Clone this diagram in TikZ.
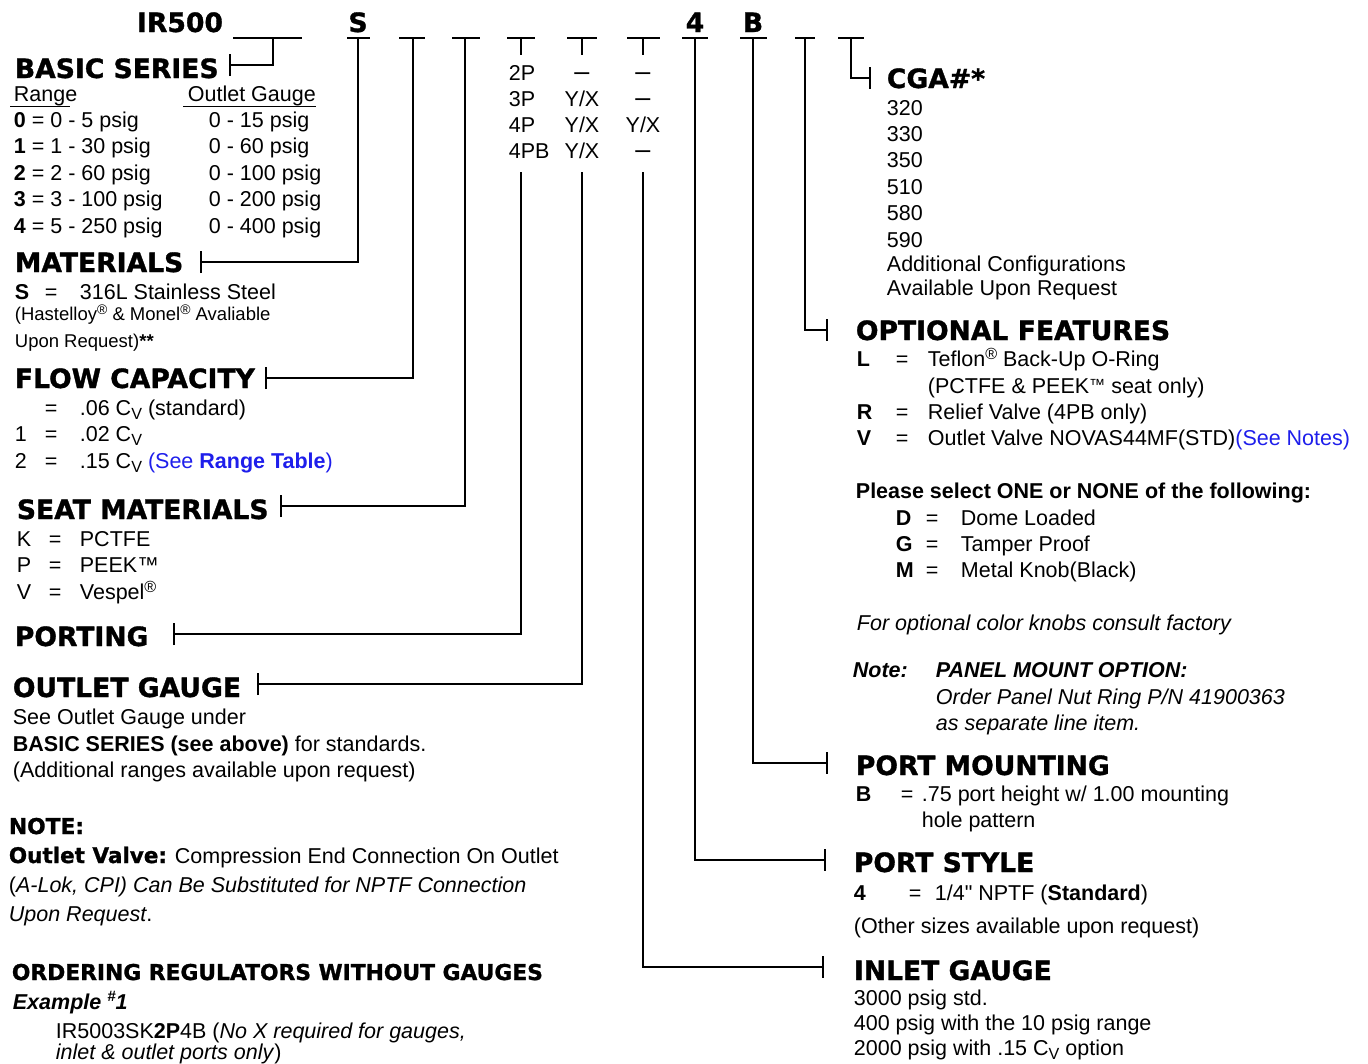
\documentclass[tikz,border=0pt]{standalone}
\usepackage{fontspec}
\setmainfont{Liberation Sans}
\newfontfamily\headfont{DejaVu Sans}[BoldFeatures={FakeBold=1.2}]
\newfontfamily\straightfont{Liberation Sans}[Ligatures=TeXOff]
\usetikzlibrary{arrows.meta}
\definecolor{seeblue}{RGB}{30,30,235}
\newcommand\regm{\raisebox{.32em}{\scalebox{.75}{®}}}
\newcommand\tmm{\raisebox{.12em}{\scalebox{.75}{™}}}
\newcommand\cvsub{C\raisebox{-.2em}{\scalebox{.75}{V}}}
\newcommand\nodash{{\fontsize{27}{30}\selectfont –}}

\begin{document}
\begin{tikzpicture}[x=1pt,y=-1pt,line width=1.8pt,
    head/.style={anchor=base west,inner sep=0pt,font=\headfont\bfseries\fontsize{26.6}{30}\selectfont},
    smallhead/.style={head,font=\headfont\bfseries\fontsize{21.8}{26}\selectfont},
    code/.style={head,anchor=base},
    txt/.style={anchor=base west,inner sep=0pt,font=\fontsize{21.5}{26}\selectfont},
    small/.style={txt,font=\fontsize{18.5}{22}\selectfont},
    mid/.style={txt,anchor=base},
    lead/.style={-{Bar[width=22pt,line width=1.8pt]}}]
    \useasboundingbox (0,0) rectangle (1368,1063);

    % part number
    \node[code] (ir) at (180,32) {IR500};
    \node[code] (cs) at (358,32) {S};
    \node[code] (c4) at (695,32) {4};
    \node[code] (cb) at (753,32) {B};
    \foreach \a/\b in {233/302,347/370,399/425,452/480,507/535,567/597,627/660,682/708,740/767,795/815,838/864}
        \draw (\a,38) -- (\b,38);

    \coordinate (s1) at (273,38);
    \coordinate (s2) at (358,38);
    \coordinate (s3) at (413,38);
    \coordinate (s4) at (465,38);
    \coordinate (s5) at (521,38);
    \coordinate (s6) at (582,38);
    \coordinate (s7) at (643,38);
    \coordinate (s8) at (695,38);
    \coordinate (s9) at (753,38);
    \coordinate (s10) at (805,38);
    \coordinate (s11) at (851,38);

    % porting / gauge columns
    \foreach \p [count=\i] in {2P,3P,4P,4PB}
        \node[txt] (pp\i) at (508,{80+26.3*(\i-1)}) {\p};
    \foreach \o [count=\i] in {\nodash,Y/X,Y/X,Y/X}
        \node[mid] (po\i) at (582,{80+26.3*(\i-1)}) {\o};
    \foreach \o [count=\i] in {\nodash,\nodash,Y/X,\nodash}
        \node[mid] (pi\i) at (643,{80+26.3*(\i-1)}) {\o};
    \coordinate (e5) at (521,172);
    \coordinate (e6) at (582,172);
    \coordinate (e7) at (643,172);
    \draw (s5) -- (521,55);
    \draw (s6) -- (582,55);
    \draw (s7) -- (643,55);

    % left column
    \node[head] (bs) at (14,78) {BASIC SERIES};
    \node[txt] (rng) at (13,101) {Range};
    \node[txt] (ogh) at (187,101) {Outlet Gauge};
    \draw[line width=1pt] (10,106) -- (70,106);
    \draw[line width=1pt] (183,106) -- (316,106);
    \foreach \k/\r/\g [count=\i] in {0/0 - 5/15,1/1 - 30/60,2/2 - 60/100,3/3 - 100/200,4/5 - 250/400}{
        \node[txt] (r\i) at (13,{127+26.5*(\i-1)}) {\textbf{\k} = \r\ psig};
        \node[txt] (g\i) at (208,{127+26.5*(\i-1)}) {0 - \g\ psig};
    }

    \node[head] (mat) at (14,272) {MATERIALS};
    \node[txt] (matk) at (14,299) {\textbf{S}};
    \node[txt] (mate) at (44,299) {=};
    \node[txt] (matv) at (79,299) {316L Stainless Steel};
    \node[small] (mat2) at (14,320) {(Hastelloy\regm{} \& Monel\regm{} Avaliable};
    \node[small] (mat3) at (14,347) {Upon Request)\textbf{**}};

    \node[head] (fc) at (14,388) {FLOW CAPACITY};
    \foreach \k/\v [count=\i] in {{}/{.06 \cvsub{} (standard)},1/{.02 \cvsub},2/{.15 \cvsub{} \textcolor{seeblue}{(See \textbf{Range Table})}}}{
        \node[txt] (fck\i) at (14,{415+26.5*(\i-1)}) {\k};
        \node[txt] (fce\i) at (44,{415+26.5*(\i-1)}) {=};
        \node[txt] (fcv\i) at (79,{415+26.5*(\i-1)}) {\v};
    }

    \node[head] (seat) at (16,519) {SEAT MATERIALS};
    \foreach \k/\v [count=\i] in {K/PCTFE,P/PEEK™,V/Vespel\regm}{
        \node[txt] (stk\i) at (16,{546+26.5*(\i-1)}) {\k};
        \node[txt] (ste\i) at (48,{546+26.5*(\i-1)}) {=};
        \node[txt] (stv\i) at (79,{546+26.5*(\i-1)}) {\v};
    }

    \node[head] (port) at (14,646) {PORTING};
    \node[head] (og) at (12,697) {OUTLET GAUGE};
    \node[txt] (og1) at (12,724) {See Outlet Gauge under};
    \node[txt] (og2) at (12,751) {\textbf{BASIC SERIES (see above)} for standards.};
    \node[txt] (og3) at (12,777) {(Additional ranges available upon request)};

    \node[smallhead] (note) at (8,834) {NOTE:};
    \node[txt] (nt1) at (8,863) {{\headfont\bfseries\fontsize{21.5}{26}\selectfont Outlet Valve:} Compression End Connection On Outlet};
    \node[txt] (nt2) at (8,892) {(\textit{A-Lok, CPI) Can Be Substituted for NPTF Connection}};
    \node[txt] (nt3) at (8,921) {\textit{Upon Request}.};

    \node[smallhead] (ord) at (11,980) {ORDERING REGULATORS WITHOUT GAUGES};
    \node[txt] (ex) at (12,1009) {\textbf{\textit{Example \raisebox{.35em}{\scalebox{.7}{\#}}1}}};
    \node[txt] (ex1) at (55,1038) {IR5003SK\textbf{2P}4B (\textit{No X required for gauges,}};
    \node[txt] (ex2) at (55,1059) {\textit{inlet \& outlet ports only})};

    % right column
    \node[head] (cga) at (886,88) {CGA\#*};
    \foreach \c [count=\i] in {320,330,350,510,580,590}
        \node[txt] (cg\i) at (886,{115+26.4*(\i-1)}) {\c};
    \node[txt] (cga7) at (886,271) {Additional Configurations};
    \node[txt] (cga8) at (886,295) {Available Upon Request};

    \node[head] (opt) at (855,340) {OPTIONAL FEATURES};
    \foreach \k/\v/\y in {L/{Teflon\regm{} Back-Up O-Ring}/366,R/{Relief Valve (4PB only)}/419,V/{Outlet Valve NOVAS44MF(STD)\textcolor{seeblue}{(See Notes)}}/445}{
        \node[txt] (ok\k) at (856,\y) {\textbf{\k}};
        \node[txt] (oe\k) at (895,\y) {=};
        \node[txt] (ov\k) at (927,\y) {\v};
    }
    \node[txt] (ovL2) at (927,393) {(PCTFE \& PEEK\tmm{} seat only)};

    \node[txt] (sel) at (855,498) {\textbf{Please select ONE or NONE of the following:}};
    \foreach \k/\v [count=\i] in {D/Dome Loaded,G/Tamper Proof,M/Metal Knob(Black)}{
        \node[txt] (sk\i) at (895,{525+26*(\i-1)}) {\textbf{\k}};
        \node[txt] (se\i) at (925,{525+26*(\i-1)}) {=};
        \node[txt] (sv\i) at (960,{525+26*(\i-1)}) {\v};
    }
    \node[txt] (knob) at (856,630) {\textit{For optional color knobs consult factory}};
    \node[txt] (nte) at (852,677) {\textbf{\textit{Note:}}};
    \node[txt] (pnl1) at (935,677) {\textbf{\textit{PANEL MOUNT OPTION:}}};
    \node[txt] (pnl2) at (935,704) {\textit{Order Panel Nut Ring P/N 41900363}};
    \node[txt] (pnl3) at (935,730) {\textit{as separate line item.}};

    \node[head] (pm) at (855,775) {PORT MOUNTING};
    \node[txt] (pmk) at (855,801) {\textbf{B}};
    \node[txt] (pme) at (900,801) {=};
    \node[txt] (pmv) at (921,801) {.75 port height w/ 1.00 mounting};
    \node[txt] (pmv2) at (921,827) {hole pattern};

    \node[head] (ps) at (853,872) {PORT STYLE};
    \node[txt] (psk) at (853,900) {\textbf{4}};
    \node[txt] (pse) at (908,900) {=};
    \node[txt] (psv) at (934,900) {1/4{\straightfont "} NPTF (\textbf{Standard})};
    \node[txt] (ps2) at (853,933) {(Other sizes available upon request)};

    \node[head] (ig) at (853,980) {INLET GAUGE};
    \node[txt] (ig1) at (853,1005) {3000 psig std.};
    \node[txt] (ig2) at (853,1030) {400 psig with the 10 psig range};
    \node[txt] (ig3) at (853,1055) {2000 psig with .15 \cvsub{} option};

    % leaders
    \coordinate (t1) at (229,65);
    \coordinate (t2) at (200,262);
    \coordinate (t3) at (265,378);
    \coordinate (t4) at (280,506);
    \coordinate (t5) at (173,634);
    \coordinate (t6) at (257,684);
    \coordinate (t7) at (824,967);
    \coordinate (t8) at (826,860);
    \coordinate (t9) at (828,763);
    \coordinate (t10) at (828,330);
    \coordinate (t11) at (871,78);
    \foreach \s/\t in {s1/t1,s2/t2,s3/t3,s4/t4,e5/t5,e6/t6,e7/t7,s8/t8,s9/t9,s10/t10,s11/t11}
        \draw[lead] (\s) |- (\t);
\end{tikzpicture}
\end{document}
